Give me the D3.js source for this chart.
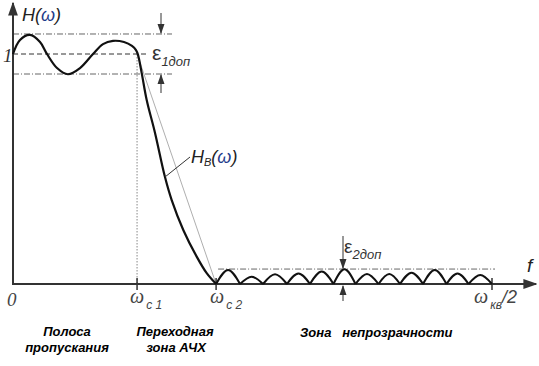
<!DOCTYPE html>
<html><head><meta charset="utf-8">
<script src="https://cdn.jsdelivr.net/npm/d3@7"></script>
<style>body{margin:0;background:#fff}svg{display:block}</style>
</head><body>
<script>
// frequency normalised so that ωкв/2 = 1, amplitude normalised so that passband nominal = 1
const fc1 = 0.259, fc2 = 0.424, fEnd = 1.0;
const eps1 = 0.087, eps2 = 0.065;
// passband + transition band response H_B(ω)
const respF = [0,0.0146,0.0355,0.0564,0.071,0.0919,0.1148,0.1399,0.167,0.1879,0.2088,0.2317,0.2484,0.2568,0.261,0.2687,0.2791,0.2965,0.3173,0.3313,0.3555,0.3835,0.4044,0.424];
const respV = [1.0,1.061,1.083,1.052,1.0,0.939,0.912,0.939,1.0,1.043,1.057,1.052,1.035,1.017,0.996,0.917,0.800,0.657,0.465,0.365,0.235,0.119,0.047,0.0];
// stopband ripple lobes: zero crossings and lobe peak heights
const lobeEdges = [0.424,0.474,0.522,0.572,0.620,0.669,0.715,0.763,0.808,0.856,0.905,0.951,1.0];
const lobePeaks = [0.061,0.032,0.042,0.046,0.054,0.064,0.043,0.043,0.049,0.061,0.046,0.039];
const tickF = [fc1, fc2, fEnd];

const W=539,H=366;
const svg=d3.select("body").append("svg").attr("width",W).attr("height",H);
const x=d3.scaleLinear().domain([0,1]).range([13,492]);
const y=d3.scaleLinear().domain([0,1]).range([284,54]);
const ax="#333";
const defs=svg.append("defs");
function marker(id,color,s){
  defs.append("marker").attr("id",id).attr("viewBox","0 0 10 10").attr("refX",9).attr("refY",5)
   .attr("markerWidth",s).attr("markerHeight",s).attr("markerUnits","userSpaceOnUse").attr("orient","auto")
   .append("path").attr("d","M0,1.5L10,5L0,8.5Z").attr("fill",color);
}
marker("ax",ax,14); marker("sm","#333",10);

// reference lines
const dd="6,2,1,2";
svg.append("line").attr("x1",x(0)).attr("x2",172).attr("y1",y(1+eps1)).attr("y2",y(1+eps1)).attr("stroke","#666").attr("stroke-width",1).attr("stroke-dasharray",dd);
svg.append("line").attr("x1",x(0)).attr("x2",172).attr("y1",y(1-eps1)).attr("y2",y(1-eps1)).attr("stroke","#666").attr("stroke-width",1).attr("stroke-dasharray",dd);
svg.append("line").attr("x1",x(0)).attr("x2",147).attr("y1",y(1)).attr("y2",y(1)).attr("stroke","#333").attr("stroke-width",1).attr("stroke-dasharray","5,3");
svg.append("line").attr("x1",x(fc2)+2).attr("x2",x(fEnd)+3).attr("y1",y(eps2)).attr("y2",y(eps2)).attr("stroke","#666").attr("stroke-width",1).attr("stroke-dasharray",dd);
// vertical dotted at ωc1 and thin ideal slope
svg.append("line").attr("x1",x(fc1)).attr("x2",x(fc1)).attr("y1",y(1)).attr("y2",y(0)).attr("stroke","#888").attr("stroke-width",1).attr("stroke-dasharray","1.5,1.5");
svg.append("line").attr("x1",x(fc1)).attr("x2",x(fc2)).attr("y1",y(1)).attr("y2",y(0)).attr("stroke","#999").attr("stroke-width",0.8);

// axes
svg.append("line").attr("x1",x(0)).attr("x2",x(0)).attr("y1",y(0)+1).attr("y2",3).attr("stroke",ax).attr("stroke-width",2).attr("marker-end","url(#ax)");
svg.append("line").attr("x1",x(0)-1).attr("x2",536).attr("y1",y(0)).attr("y2",y(0)).attr("stroke",ax).attr("stroke-width",2).attr("marker-end","url(#ax)");
svg.selectAll(".tk").data(tickF).enter().append("line").attr("x1",d=>x(d)).attr("x2",d=>x(d)).attr("y1",y(0)-6).attr("y2",y(0)+6).attr("stroke",ax).attr("stroke-width",1.5);

// response curve
const pts=respF.map((f,i)=>[x(f),y(respV[i])]);
svg.append("path").attr("d",d3.line().curve(d3.curveCatmullRom.alpha(0.5))(pts)).attr("fill","none").attr("stroke","#111").attr("stroke-width",2.2);
// stopband lobes
lobePeaks.forEach((p,i)=>{
  const a=lobeEdges[i], b=lobeEdges[i+1];
  const lp=[[x(a),y(0)],[x((a+b)/2),y(p)],[x(b),y(0)]];
  svg.append("path").attr("d",d3.line().curve(d3.curveNatural)(lp)).attr("fill","none").attr("stroke","#111").attr("stroke-width",2);
});

// epsilon arrows
const ex1=161;
svg.append("line").attr("x1",ex1).attr("x2",ex1).attr("y1",13).attr("y2",y(1+eps1)-1).attr("stroke","#333").attr("stroke-width",1).attr("marker-end","url(#sm)");
svg.append("line").attr("x1",ex1).attr("x2",ex1).attr("y1",93).attr("y2",y(1-eps1)+1).attr("stroke","#333").attr("stroke-width",1).attr("marker-end","url(#sm)");
const ex2=343;
svg.append("line").attr("x1",ex2).attr("x2",ex2).attr("y1",236).attr("y2",y(eps2)-1).attr("stroke","#333").attr("stroke-width",1).attr("marker-end","url(#sm)");
svg.append("line").attr("x1",ex2).attr("x2",ex2).attr("y1",301).attr("y2",y(0)+2).attr("stroke","#333").attr("stroke-width",1).attr("marker-end","url(#sm)");
// H_B leader
svg.append("line").attr("x1",165).attr("y1",177).attr("x2",190).attr("y2",157).attr("stroke","#333").attr("stroke-width",1);

// texts
const sans="'Liberation Sans', Arial, sans-serif", serif="'Liberation Serif', 'Times New Roman', serif";
function t(xx,yy,str,opt={}){
  return svg.append("text").attr("x",xx).attr("y",yy).text(str)
   .attr("font-family",opt.ff||sans).attr("font-size",opt.fs||14).attr("font-style",opt.it===false?"normal":"italic")
   .attr("font-weight",opt.fw||"normal").attr("fill",opt.c||"#222").attr("text-anchor",opt.a||"start");
}
// H(ω)
const h=t(22,21,"H(",{fs:18});
h.append("tspan").attr("fill","#1f3c8a").text("ω");
h.append("tspan").text(")");
t(3,62,"1",{ff:serif,fs:19,c:"#333"});
t(7,306,"0",{ff:serif,fs:19,c:"#444"});
// ε1доп
const e1=t(152,60,"ε",{fs:21,it:false,c:"#333"});
e1.append("tspan").attr("font-size",13).attr("font-style","italic").attr("dy",6).text("1доп");
const e2=t(344,253,"ε",{fs:19,it:false,c:"#333"});
e2.append("tspan").attr("font-size",13).attr("font-style","italic").attr("dy",6).text("2доп");
// H_B(ω)
const hb=t(191,163,"H",{fs:18,c:"#222"});
hb.append("tspan").attr("font-size",11).attr("dy",3).text("B");
hb.append("tspan").attr("dy",-3).text("(");
hb.append("tspan").attr("fill","#1f3c8a").text("ω");
hb.append("tspan").text(")");
t(527,272,"f",{fs:19});
// frequency labels
function wl(xx,sub,extra){
  const s=t(xx,303,"ω",{ff:serif,fs:20,c:"#444"});
  s.append("tspan").attr("font-family",sans).attr("font-size",12).attr("dy",6).attr("dx",2).text(sub);
  if(extra) s.append("tspan").attr("font-family",sans).attr("font-size",18).attr("dy",-6).text(extra);
}
wl(130,"c 1");
wl(210,"c 2");
wl(474,"кв","/2");
// zone captions
const bf={fs:13,fw:"bold",c:"#000",a:"middle"};
t(67,336,"Полоса",bf);
t(67,352,"пропускания",bf);
t(175,336,"Переходная",bf);
t(176,352,"зона АЧХ",bf);
svg.append("text").attr("x",300).attr("y",337).attr("font-family",sans).attr("font-size",13).attr("font-style","italic").attr("font-weight","bold").attr("fill","#000").attr("xml:space","preserve").style("white-space","pre").text("Зона   непрозрачности");
</script>
</body></html>
